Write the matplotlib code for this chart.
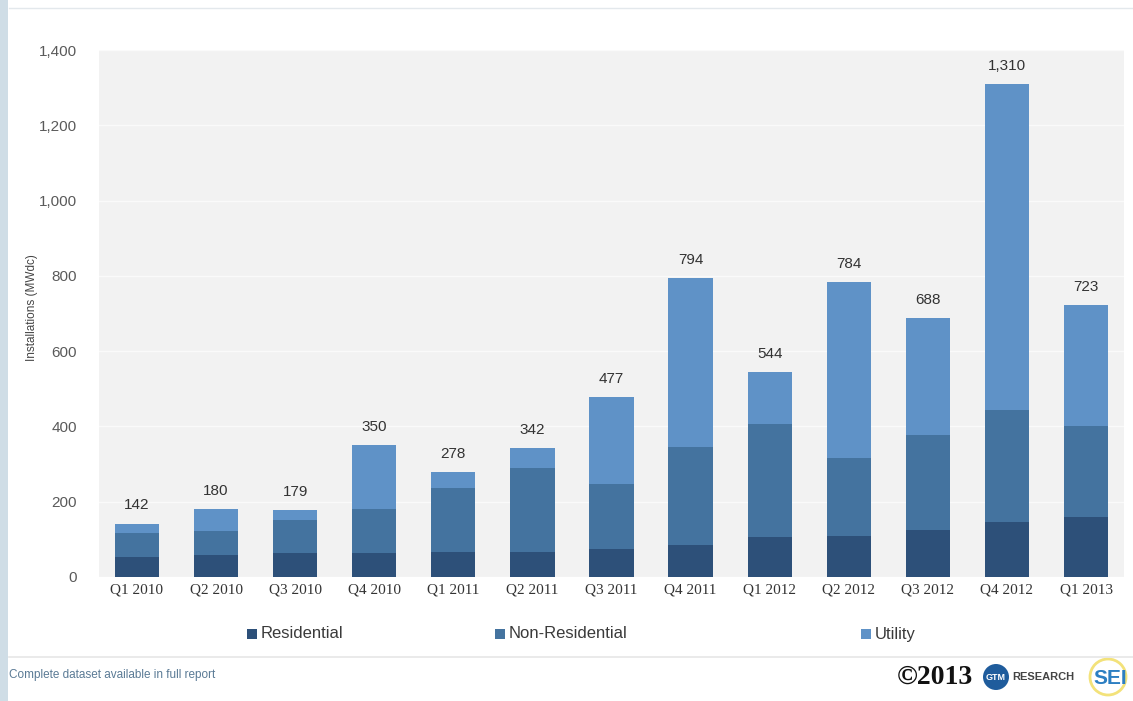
import numpy as np
import matplotlib
matplotlib.use("Agg")
import matplotlib.pyplot as plt
from matplotlib.patches import Rectangle, Ellipse
from matplotlib.ticker import FuncFormatter

# quarterly installations (MWdc)
quarters = ["Q1 2010", "Q2 2010", "Q3 2010", "Q4 2010", "Q1 2011", "Q2 2011",
            "Q3 2011", "Q4 2011", "Q1 2012", "Q2 2012", "Q3 2012", "Q4 2012", "Q1 2013"]
residential = [53, 58, 64, 64, 67, 66, 74, 86, 105, 110, 125, 146, 160]
non_residential = [64, 64, 87, 117, 170, 223, 172, 260, 302, 207, 251, 298, 242]
totals = [142, 180, 179, 350, 278, 342, 477, 794, 544, 784, 688, 1310, 723]
utility = [t - r - n for t, r, n in zip(totals, residential, non_residential)]

series_names = ["Residential", "Non-Residential", "Utility"]
colors = ["#2d5079", "#44739f", "#5f92c7"]

W, H = 1133, 701
fig = plt.figure(figsize=(W / 100, H / 100), dpi=100)
fig.patch.set_facecolor("white")

# light blue strip on the left and thin rules
fig.patches.append(Rectangle((0, 0), 8 / W, 1, transform=fig.transFigure,
                             facecolor="#cfdde6", edgecolor="none"))
fig.add_artist(plt.Line2D([9 / W, 1], [1 - 8 / H, 1 - 8 / H],
                          transform=fig.transFigure, color="#e3e8ec", lw=1))
fig.add_artist(plt.Line2D([9 / W, 1], [1 - 657 / H, 1 - 657 / H],
                          transform=fig.transFigure, color="#e6e6e6", lw=1.2))

ax = fig.add_axes([99 / W, 1 - 577 / H, (1124 - 99) / W, (577 - 50) / H])
ax.set_facecolor("#f2f2f2")

x = np.arange(len(quarters))
w = 0.56
bottom = np.zeros(len(quarters))
for vals, name, c in zip([residential, non_residential, utility], series_names, colors):
    ax.bar(x, vals, w, bottom=bottom, color=c, label=name, zorder=2)
    bottom += np.array(vals)

for xi, t in zip(x, totals):
    ax.annotate(f"{t:,}", (xi, t), xytext=(0, 8), textcoords="offset points",
                ha="center", va="bottom", fontsize=11, color="#333333",
                family="Liberation Sans")

ax.set_xlim(-0.48, len(quarters) - 0.52)
ax.set_ylim(0, 1400)
ax.set_yticks(range(0, 1401, 200))
ax.yaxis.set_major_formatter(FuncFormatter(lambda v, p: f"{int(v):,}"))
ax.set_xticks(x)
ax.set_xticklabels(quarters, family="Liberation Serif", fontsize=11, color="#333333")
for lab in ax.get_yticklabels():
    lab.set_family("Liberation Sans")
ax.tick_params(axis="y", labelsize=11, labelcolor="#5a5a5a", length=0, pad=16)
ax.tick_params(axis="x", length=0, pad=5)
ax.grid(axis="y", color="#fafafa", lw=1, zorder=1)
for s in ax.spines.values():
    s.set_visible(False)

fig.text(32 / W, 1 - 308 / H, "Installations (MWdc)", rotation=90,
         ha="center", va="center", fontsize=8.5, color="#444444", family="Liberation Sans")

# legend drawn by hand to keep the uneven spacing
legend_x = [247, 495, 861]
for lx, name, c in zip(legend_x, series_names, colors):
    fig.patches.append(Rectangle((lx / W, 1 - 639 / H), 10 / W, 10 / H,
                                 transform=fig.transFigure, facecolor=c, edgecolor="none"))
    fig.text((lx + 14) / W, 1 - 634 / H, name, ha="left", va="center",
             fontsize=12, color="#3a3a3a", family="Liberation Sans")

fig.text(9 / W, 1 - 675 / H, "Complete dataset available in full report",
         ha="left", va="center", fontsize=8.5, color="#5a7a95", family="Liberation Sans")

# logo
fig.text(897 / W, 1 - 677 / H, "\u00a92013", ha="left", va="center",
         fontsize=20, fontweight="bold", color="#111111", family="Liberation Serif")
fig.patches.append(Ellipse((996 / W, 1 - 677 / H), 26 / W, 26 / H, transform=fig.transFigure,
                           facecolor="#1f5c9c", edgecolor="none"))
fig.text(996 / W, 1 - 677 / H, "GTM", ha="center", va="center", fontsize=6.5,
         fontweight="bold", color="white", family="Liberation Sans")
fig.text(1012 / W, 1 - 677 / H, "RESEARCH", ha="left", va="center", fontsize=8,
         fontweight="bold", color="#444444", family="Liberation Sans")
fig.patches.append(Ellipse((1108 / W, 1 - 677 / H), 36 / W, 36 / H, transform=fig.transFigure,
                           facecolor="none", edgecolor="#f3e27a", lw=2))
fig.text(1110 / W, 1 - 678 / H, "SEI", ha="center", va="center", fontsize=15,
         fontweight="bold", color="#2d7fc2", family="Liberation Sans")

fig.savefig("out.png", dpi=100, facecolor="white")
